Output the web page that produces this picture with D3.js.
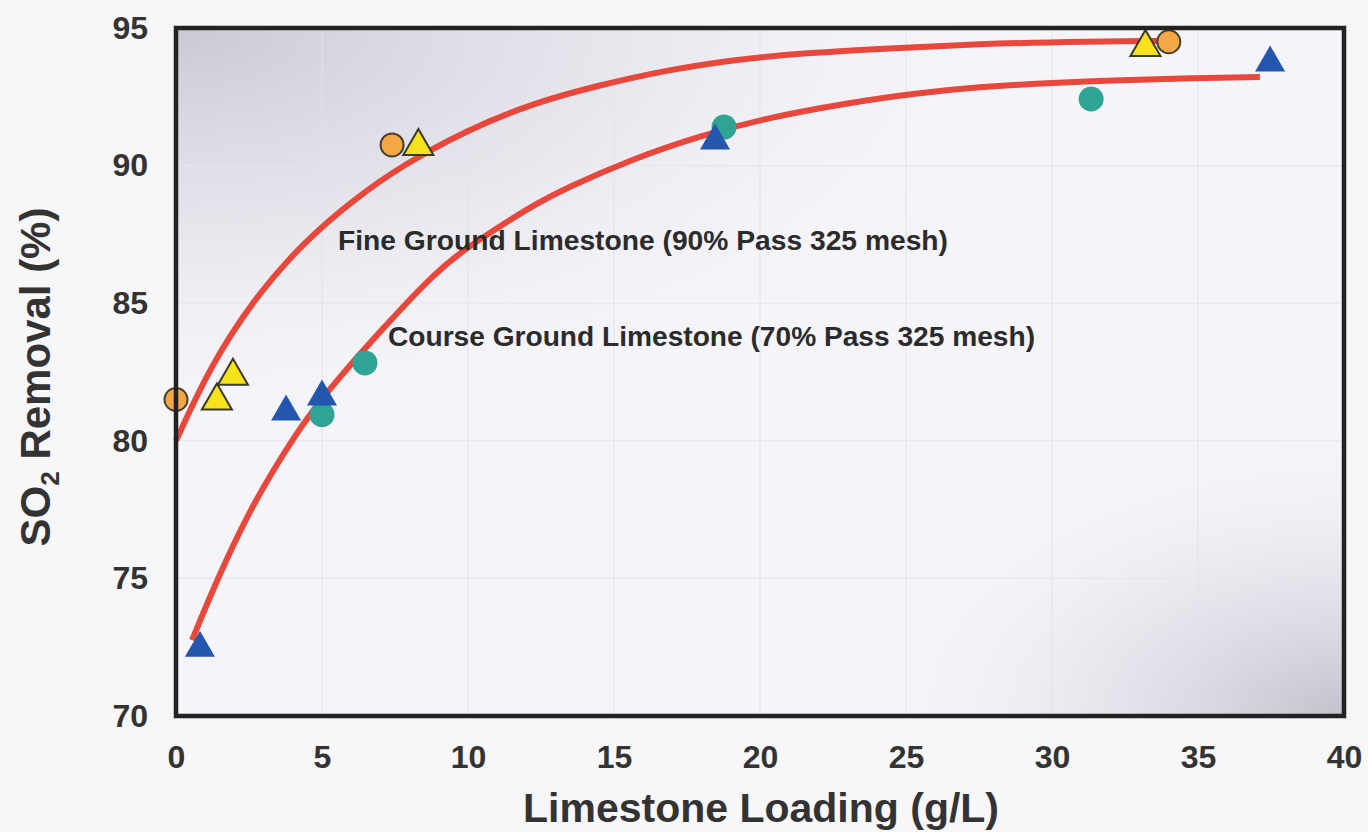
<!DOCTYPE html>
<html lang="en">
<head>
    <meta charset="utf-8" />
    <title>SO2 Removal vs Limestone Loading</title>
    <script src="https://d3js.org/d3.v7.min.js"></script>
    <style>
        body { margin: 0; background: #f7f6f9; }
        text { font-family: "Liberation Sans", Arial, sans-serif; }
    </style>
</head>
<body>
    <script>
        var w = 1368;
        var h = 832;
        var margin = { left: 176, right: 24, top: 28, bottom: 116 };

        // Axis ticks
        var xTicks = [0, 5, 10, 15, 20, 25, 30, 35, 40];
        var yTicks = [70, 75, 80, 85, 90, 95];

        // Fine ground limestone (90% pass 325 mesh)
        var fineCircles = [[0, 81.5], [7.4, 90.75], [34.0, 94.5]];
        var fineTriangles = [[1.4, 81.45], [1.95, 82.35], [8.3, 90.7], [33.2, 94.3]];
        var fineCurve = [
            [0, 80.0], [1.16, 82.68], [2.64, 85.12], [4.35, 87.2], [6.06, 88.75],
            [7.77, 90.02], [9.96, 91.29], [12.22, 92.27], [14.52, 92.93], [16.81, 93.47],
            [19.08, 93.84], [21.37, 94.09], [25.24, 94.3], [27.53, 94.42], [29.83, 94.48],
            [32.67, 94.52], [33.7, 94.53]
        ];

        // Course ground limestone (70% pass 325 mesh)
        var courseCircles = [[5.0, 80.95], [6.47, 82.83], [18.77, 91.4], [31.34, 92.42]];
        var courseTriangles = [[0.82, 72.47], [3.77, 81.05], [5.0, 81.6], [18.46, 90.9], [37.47, 93.73]];
        var courseCurve = [
            [0.55, 72.76], [1.40, 74.94], [2.53, 77.5], [3.66, 79.5], [4.49, 80.85],
            [5.51, 82.2], [6.88, 83.85], [8.94, 86.2], [10.07, 87.1], [12.12, 88.5],
            [13.39, 89.2], [15.65, 90.25], [17.95, 91.08], [20.24, 91.74], [22.98, 92.27],
            [25.24, 92.62], [27.53, 92.86], [29.83, 93.0], [32.09, 93.1], [34.38, 93.17],
            [37.12, 93.22]
        ];

        var xScale = d3.scaleLinear()
            .domain([0, 40])
            .range([margin.left, w - margin.right]);

        var yScale = d3.scaleLinear()
            .domain([70, 95])
            .range([h - margin.bottom, margin.top]);

        var svg = d3.select("body")
            .append("svg")
            .attr("width", w)
            .attr("height", h);

        // Shaded plot background: grey in the top-left and bottom-right corners
        var defs = svg.append("defs");
        var g1 = defs.append("radialGradient")
            .attr("id", "tl")
            .attr("cx", 0).attr("cy", 0).attr("r", 0.75)
            .attr("gradientTransform", "scale(1,0.8)");
        g1.append("stop").attr("offset", 0).attr("stop-color", "#c9c9d2").attr("stop-opacity", 1);
        g1.append("stop").attr("offset", 0.5).attr("stop-color", "#dedde6").attr("stop-opacity", 0.6);
        g1.append("stop").attr("offset", 1).attr("stop-color", "#f5f4f9").attr("stop-opacity", 0);

        var g2 = defs.append("radialGradient")
            .attr("id", "br")
            .attr("cx", 1).attr("cy", 1).attr("r", 0.42);
        g2.append("stop").attr("offset", 0).attr("stop-color", "#c2c2cd").attr("stop-opacity", 1);
        g2.append("stop").attr("offset", 0.5).attr("stop-color", "#dcdce5").attr("stop-opacity", 0.6);
        g2.append("stop").attr("offset", 1).attr("stop-color", "#f5f4f9").attr("stop-opacity", 0);

        var x0 = xScale(0), x1 = xScale(40), y0 = yScale(95), y1 = yScale(70);

        ["#f5f4f9", "url(#tl)", "url(#br)"].forEach(function (f) {
            svg.append("rect")
                .attr("x", x0).attr("y", y0)
                .attr("width", x1 - x0).attr("height", y1 - y0)
                .attr("fill", f);
        });

        // faint grid
        svg.append("g")
            .selectAll("line")
            .data(xTicks.slice(1, -1))
            .enter()
            .append("line")
            .attr("x1", function (d) { return xScale(d); })
            .attr("x2", function (d) { return xScale(d); })
            .attr("y1", y0).attr("y2", y1)
            .attr("stroke", "#e2e1ea")
            .attr("stroke-width", 1);

        svg.append("g")
            .selectAll("line")
            .data(yTicks.slice(1, -1))
            .enter()
            .append("line")
            .attr("y1", function (d) { return yScale(d); })
            .attr("y2", function (d) { return yScale(d); })
            .attr("x1", x0).attr("x2", x1)
            .attr("stroke", "#e6e5ee")
            .attr("stroke-width", 1);

        // Axes (labels only, frame drawn separately)
        var xAxis = d3.axisBottom(xScale)
            .tickValues(xTicks)
            .tickSize(0)
            .tickPadding(29);
        var gx = svg.append("g")
            .attr("transform", "translate(0," + y1 + ")")
            .call(xAxis);
        gx.select(".domain").remove();
        gx.selectAll("text")
            .attr("font-family", "'Liberation Sans', Arial, sans-serif")
            .attr("font-size", "32px")
            .attr("font-weight", "bold")
            .attr("fill", "#333");

        var yAxis = d3.axisLeft(yScale)
            .tickValues(yTicks)
            .tickSize(0)
            .tickPadding(28);
        var gy = svg.append("g")
            .attr("transform", "translate(" + x0 + ",0)")
            .call(yAxis);
        gy.select(".domain").remove();
        gy.selectAll("text")
            .attr("font-family", "'Liberation Sans', Arial, sans-serif")
            .attr("font-size", "32px")
            .attr("font-weight", "bold")
            .attr("fill", "#333");

        // Fitted curves
        var line = d3.line()
            .x(function (d) { return xScale(d[0]); })
            .y(function (d) { return yScale(d[1]); })
            .curve(d3.curveBasis);

        [fineCurve, courseCurve].forEach(function (c) {
            svg.append("path")
                .datum(c)
                .attr("d", line)
                .attr("fill", "none")
                .attr("stroke", "#e8473c")
                .attr("stroke-width", 6);
        });

        // Markers
        var tri = d3.symbol().type(d3.symbolTriangle).size(390);

        function drawCircles(data, r, fill, stroke) {
            svg.append("g").selectAll("circle")
                .data(data)
                .enter()
                .append("circle")
                .attr("cx", function (d) { return xScale(d[0]); })
                .attr("cy", function (d) { return yScale(d[1]); })
                .attr("r", r)
                .attr("fill", fill)
                .attr("stroke", stroke || "none")
                .attr("stroke-width", 2);
        }

        function drawTriangles(data, fill, stroke) {
            svg.append("g").selectAll("path")
                .data(data)
                .enter()
                .append("path")
                .attr("d", tri)
                .attr("transform", function (d) {
                    return "translate(" + xScale(d[0]) + "," + yScale(d[1]) + ")";
                })
                .attr("fill", fill)
                .attr("stroke", stroke || "none")
                .attr("stroke-width", 2);
        }

        drawCircles(courseCircles, 12.5, "#2fa394");
        drawTriangles(courseTriangles, "#2456ad");
        drawCircles(fineCircles, 11.5, "#f4a845", "#4a4030");
        drawTriangles(fineTriangles, "#f7e21c", "#3a3a2a");

        // Frame
        svg.append("rect")
            .attr("x", x0).attr("y", y0)
            .attr("width", x1 - x0).attr("height", y1 - y0)
            .attr("fill", "none")
            .attr("stroke", "#222")
            .attr("stroke-width", 4.5);

        // Curve annotations
        svg.append("text")
            .attr("x", 338)
            .attr("y", 250)
            .attr("font-size", "27px")
            .attr("font-weight", "bold")
            .attr("fill", "#2b2b2b")
            .attr("textLength", 610)
            .attr("lengthAdjust", "spacingAndGlyphs")
            .text("Fine Ground Limestone (90% Pass 325 mesh)");

        svg.append("text")
            .attr("x", 388)
            .attr("y", 346)
            .attr("font-size", "27px")
            .attr("font-weight", "bold")
            .attr("fill", "#2b2b2b")
            .attr("textLength", 647)
            .attr("lengthAdjust", "spacingAndGlyphs")
            .text("Course Ground Limestone (70% Pass 325 mesh)");

        // Axis titles
        svg.append("text")
            .attr("text-anchor", "middle")
            .attr("x", 761)
            .attr("y", 822)
            .attr("font-size", "41px")
            .attr("font-weight", "bold")
            .attr("fill", "#333")
            .text("Limestone Loading (g/L)");

        var yl = svg.append("text")
            .attr("text-anchor", "middle")
            .attr("transform", "translate(50,377) rotate(-90)")
            .attr("font-size", "42px")
            .attr("font-weight", "bold")
            .attr("fill", "#333");
        yl.append("tspan").text("SO");
        yl.append("tspan").attr("font-size", "26px").attr("dy", 9).text("2");
        yl.append("tspan").attr("dy", -9).text(" Removal (%)");
    </script>
</body>
</html>
